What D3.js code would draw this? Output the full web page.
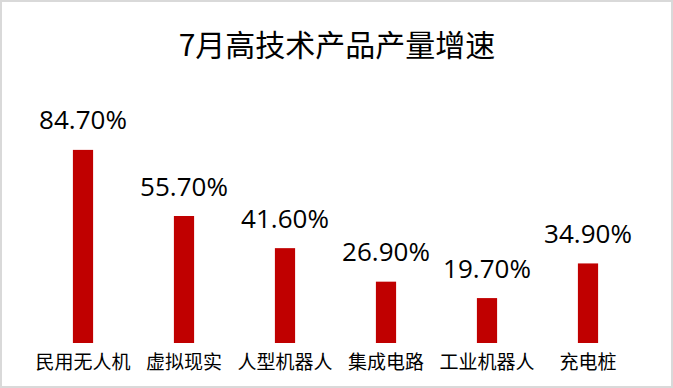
<!DOCTYPE html>
<html>
<head>
<meta charset="utf-8">
<script src="https://cdn.jsdelivr.net/npm/d3@7"></script>
<style>
  body { margin: 0; background: #fff; }
  svg { display: block; }
</style>
</head>
<body>
<svg id="chart" width="673" height="388"></svg>
<script>
// data
const categories = ["民用无人机", "虚拟现实", "人型机器人", "集成电路", "工业机器人", "充电桩"];
const growth = [84.7, 55.7, 41.6, 26.9, 19.7, 34.9];
const title = "7月高技术产品产量增速";

const svg = d3.select("#chart");
const W = 673, H = 388;

// border
svg.append("rect")
    .attr("x", 1).attr("y", 1)
    .attr("width", W - 2).attr("height", H - 2)
    .attr("fill", "#fff")
    .attr("stroke", "#d9d9d9")
    .attr("stroke-width", 2);

const x = d3.scaleBand()
    .domain(categories)
    .range([32.5, 638.5])
    .paddingInner(0.8)
    .paddingOuter(0.4);

const y = d3.scaleLinear().domain([0, 100]).range([343, 115]);

svg.append("text")
    .attr("x", 337).attr("y", 56)
    .attr("text-anchor", "middle")
    .style("font-family", "'Noto Sans CJK SC', sans-serif")
    .style("font-size", "30px")
    .attr("fill", "#000")
    .text(title);

const data = categories.map((c, i) => ({ cat: c, v: growth[i] }));

svg.selectAll(".bar")
    .data(data)
    .enter()
    .append("rect")
    .attr("class", "bar")
    .attr("x", d => x(d.cat))
    .attr("width", x.bandwidth())
    .attr("y", d => y(d.v))
    .attr("height", d => y(0) - y(d.v))
    .attr("fill", "#c00000");

svg.selectAll(".val")
    .data(data)
    .enter()
    .append("text")
    .attr("class", "val")
    .attr("x", d => x(d.cat) + x.bandwidth() / 2)
    .attr("y", d => y(d.v) - 20.5)
    .attr("text-anchor", "middle")
    .style("font-family", "'Open Sans', sans-serif")
    .style("font-size", "26px")
    .attr("fill", "#000")
    .text(d => d.v.toFixed(2) + "%");

svg.selectAll(".cat")
    .data(data)
    .enter()
    .append("text")
    .attr("class", "cat")
    .attr("x", d => x(d.cat) + x.bandwidth() / 2)
    .attr("y", 369)
    .attr("text-anchor", "middle")
    .style("font-family", "'Noto Sans CJK SC', sans-serif")
    .style("font-size", "19px")
    .attr("fill", "#000")
    .text(d => d.cat);
</script>
</body>
</html>
